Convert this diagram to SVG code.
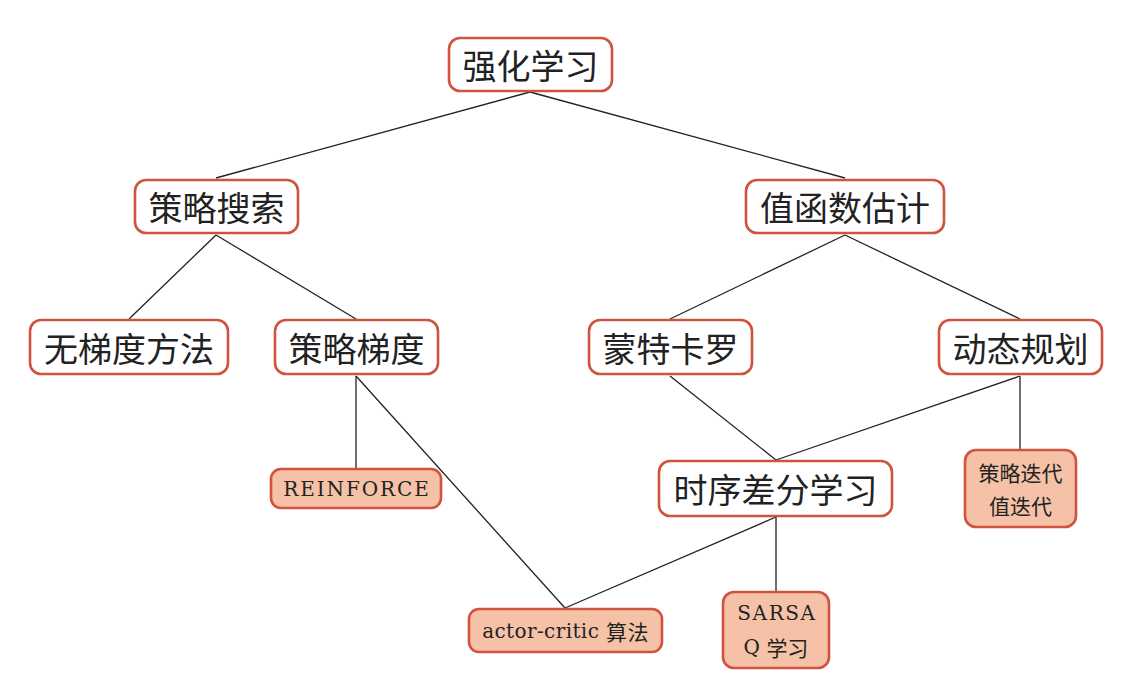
<svg xmlns="http://www.w3.org/2000/svg" width="1145" height="675" viewBox="0 0 1145 675">
<style>
.n{fill:#ffffff;stroke:#d0533e;stroke-width:2.6}
.l{fill:#f5c2a7;stroke:#d0533e;stroke-width:2.6}
.t{font-family:"Noto Sans CJK SC","Liberation Serif",serif;font-size:34px;fill:#222;text-anchor:middle;dominant-baseline:central}
.s{font-family:"DejaVu Serif","Noto Sans CJK SC",serif;font-size:20px;fill:#222;text-anchor:middle;dominant-baseline:central}
.z{font-family:"Noto Sans CJK SC",sans-serif;font-size:21px}
.c{stroke:#222;stroke-width:1.3;fill:none}
</style>
<rect width="1145" height="675" fill="#ffffff"/>
<g id="connectors">
<line class="c" x1="530" y1="92" x2="216" y2="178"/>
<line class="c" x1="530" y1="92" x2="845" y2="178"/>
<line class="c" x1="216" y1="235" x2="129" y2="319"/>
<line class="c" x1="216" y1="235" x2="356" y2="319"/>
<line class="c" x1="845" y1="235" x2="670" y2="319"/>
<line class="c" x1="845" y1="235" x2="1020" y2="319"/>
<line class="c" x1="356" y1="376" x2="356" y2="468"/>
<line class="c" x1="356" y1="376" x2="565" y2="608"/>
<line class="c" x1="670" y1="376" x2="776" y2="460"/>
<line class="c" x1="1020" y1="376" x2="776" y2="460"/>
<line class="c" x1="1020" y1="376" x2="1020" y2="449"/>
<line class="c" x1="776" y1="517" x2="565" y2="608"/>
<line class="c" x1="776" y1="517" x2="776" y2="591"/>
</g>
<g id="n-rl"><rect class="n" x="449" y="38" width="163" height="53" rx="11"/><text class="t" x="530.5" y="64.5">强化学习</text></g>
<g id="n-ps"><rect class="n" x="135" y="180" width="163" height="53" rx="11"/><text class="t" x="216.5" y="206.5">策略搜索</text></g>
<g id="n-vf"><rect class="n" x="746" y="180" width="198" height="53" rx="11"/><text class="t" x="845" y="206.5">值函数估计</text></g>
<g id="n-gf"><rect class="n" x="30" y="320" width="198" height="54" rx="11"/><text class="t" x="129" y="347">无梯度方法</text></g>
<g id="n-pg"><rect class="n" x="275" y="320" width="163" height="54" rx="11"/><text class="t" x="356.5" y="347">策略梯度</text></g>
<g id="n-mc"><rect class="n" x="589" y="320" width="163" height="54" rx="11"/><text class="t" x="670.5" y="347">蒙特卡罗</text></g>
<g id="n-dp"><rect class="n" x="939" y="320" width="163" height="54" rx="11"/><text class="t" x="1020.5" y="347">动态规划</text></g>
<g id="n-td"><rect class="n" x="659" y="461" width="233" height="55" rx="11"/><text class="t" x="775.5" y="488.5">时序差分学习</text></g>
<g id="n-re"><rect class="l" x="271" y="469" width="170" height="39" rx="10"/><text class="s" x="357" y="489" letter-spacing="1.9">REINFORCE</text></g>
<g id="n-pi"><rect class="l" x="965" y="450" width="111" height="77" rx="11"/><text class="s z" x="1020.5" y="472">策略迭代</text><text class="s z" x="1020.5" y="505">值迭代</text></g>
<g id="n-ac"><rect class="l" x="469" y="609" width="193" height="43" rx="10"/><text class="s" x="565.5" y="631" letter-spacing="0.4">actor-critic <tspan class="z">算法</tspan></text></g>
<g id="n-sq"><rect class="l" x="723" y="592" width="106" height="76" rx="11"/><text class="s" x="777" y="613" letter-spacing="1.6">SARSA</text><text class="s" x="776" y="647">Q <tspan class="z">学习</tspan></text></g>
</svg>
